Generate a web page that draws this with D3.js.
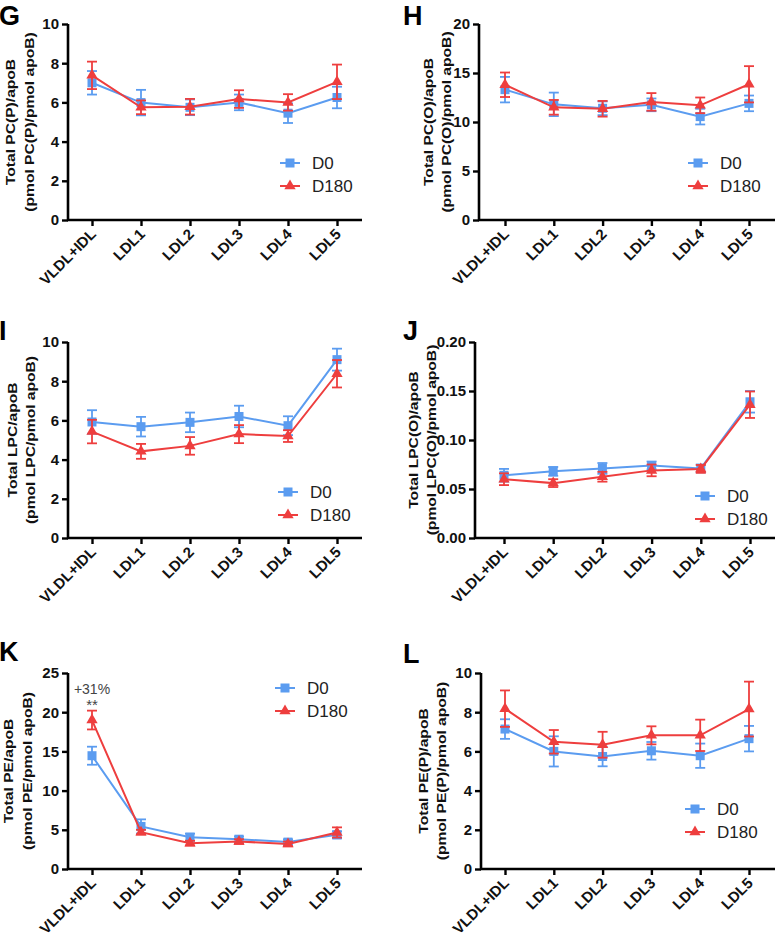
<!DOCTYPE html>
<html>
<head>
<meta charset="utf-8">
<script src="https://cdn.jsdelivr.net/npm/d3@7"></script>
<style>
  body { margin: 0; background: #fff; }
  svg { display: block; font-family: "Liberation Sans", Arial, sans-serif; }
</style>
</head>
<body>
<svg id="chart" width="776" height="937"></svg>
<script>
var categories = ["VLDL+IDL", "LDL1", "LDL2", "LDL3", "LDL4", "LDL5"];
var seriesNames = ["D0", "D180"];

// G: PC(P)
var pcpD0 = [7.0, 5.99, 5.75, 6.0, 5.45, 6.25];
var pcpD0Err = [0.6, 0.65, 0.4, 0.4, 0.5, 0.55];
var pcpD180 = [7.38, 5.75, 5.78, 6.17, 6.0, 7.05];
var pcpD180Err = [0.7, 0.35, 0.4, 0.45, 0.42, 0.88];

// H: PC(O)
var pcoD0 = [13.3, 11.8, 11.4, 11.75, 10.55, 11.9];
var pcoD0Err = [1.3, 1.2, 0.7, 0.65, 0.8, 0.8];
var pcoD180 = [13.8, 11.5, 11.35, 12.05, 11.7, 13.85];
var pcoD180Err = [1.25, 0.75, 0.8, 0.9, 0.8, 1.85];

// I: LPC
var lpcD0 = [5.92, 5.68, 5.9, 6.2, 5.73, 9.1];
var lpcD0Err = [0.6, 0.5, 0.5, 0.55, 0.48, 0.56];
var lpcD180 = [5.43, 4.42, 4.7, 5.3, 5.2, 8.38];
var lpcD180Err = [0.6, 0.38, 0.45, 0.46, 0.3, 0.7];

// J: LPC(O)
var lpcoD0 = [0.064, 0.068, 0.071, 0.074, 0.071, 0.139];
var lpcoD0Err = [0.0065, 0.0045, 0.0055, 0.004, 0.004, 0.011];
var lpcoD180 = [0.060, 0.056, 0.0625, 0.069, 0.0705, 0.136];
var lpcoD180Err = [0.006, 0.004, 0.005, 0.006, 0.004, 0.0135];

// K: PE
var peD0 = [14.45, 5.43, 4.06, 3.8, 3.43, 4.36];
var peD0Err = [1.15, 0.9, 0.45, 0.35, 0.35, 0.45];
var peD180 = [19.0, 4.7, 3.3, 3.5, 3.2, 4.66];
var peD180Err = [1.2, 0.3, 0.3, 0.3, 0.3, 0.65];

// L: PE(P)
var pepD0 = [7.14, 6.0, 5.74, 6.03, 5.78, 6.65];
var pepD0Err = [0.5, 0.77, 0.5, 0.45, 0.62, 0.65];
var pepD180 = [8.18, 6.49, 6.34, 6.82, 6.82, 8.16];
var pepD180Err = [0.93, 0.6, 0.66, 0.46, 0.8, 1.4];

var blue = "#5b9cf0", red = "#ee3e3e";

var panels = [
  { letter: "G", lx: -1, ly: 25, axisX: 68, right: 362, top: 24, bottom: 220, x0: 92, x1: 337,
    yMax: 10, yStep: 2, fmt: "d", titles: ["Total PC(P)/apoB", "(pmol PC(P)/pmol apoB)"], tx: [10, 29],
    d0: pcpD0, d0e: pcpD0Err, d180: pcpD180, d180e: pcpD180Err, legX: 280, legY: 163 },
  { letter: "H", lx: 403, ly: 25, axisX: 479, right: 775, top: 24, bottom: 220, x0: 505, x1: 749,
    yMax: 20, yStep: 5, fmt: "d", titles: ["Total PC(O)/apoB", "(pmol PC(O)/pmol apoB)"], tx: [428, 446],
    d0: pcoD0, d0e: pcoD0Err, d180: pcoD180, d180e: pcoD180Err, legX: 688, legY: 163 },
  { letter: "I", lx: -1, ly: 340, axisX: 68, right: 362, top: 342, bottom: 538, x0: 92, x1: 337,
    yMax: 10, yStep: 2, fmt: "d", titles: ["Total LPC/apoB", "(pmol LPC/pmol apoB)"], tx: [12, 30],
    d0: lpcD0, d0e: lpcD0Err, d180: lpcD180, d180e: lpcD180Err, legX: 278, legY: 492 },
  { letter: "J", lx: 403, ly: 340, axisX: 475, right: 775, top: 342, bottom: 538, x0: 504, x1: 750,
    yMax: 0.2, yStep: 0.05, fmt: ".2f", titles: ["Total LPC(O)/apoB", "(pmol LPC(O)/pmol apoB)"], tx: [413, 431],
    d0: lpcoD0, d0e: lpcoD0Err, d180: lpcoD180, d180e: lpcoD180Err, legX: 695, legY: 496 },
  { letter: "K", lx: -1, ly: 661, axisX: 68, right: 362, top: 673, bottom: 869, x0: 92, x1: 337,
    yMax: 25, yStep: 5, fmt: "d", titles: ["Total PE/apoB", "(pmol PE/pmol apoB)"], tx: [8, 27],
    d0: peD0, d0e: peD0Err, d180: peD180, d180e: peD180Err, legX: 275, legY: 688 },
  { letter: "L", lx: 403, ly: 663, axisX: 481, right: 775, top: 673, bottom: 869, x0: 505, x1: 749,
    yMax: 10, yStep: 2, fmt: "d", titles: ["Total PE(P)/apoB", "(pmol PE(P)/pmol apoB)"], tx: [423, 441],
    d0: pepD0, d0e: pepD0Err, d180: pepD180, d180e: pepD180Err, legX: 685, legY: 809 }
];

var svg = d3.select("#chart");

function drawMarker(sel, name, color) {
  if (name === "D0") {
    sel.append("rect").attr("x", -4.5).attr("y", -4.5).attr("width", 9).attr("height", 9).attr("fill", color);
  } else {
    sel.append("path").attr("d", d3.symbol().type(d3.symbolTriangle).size(55)()).attr("fill", color);
  }
}

panels.forEach(function (p) {
  var g = svg.append("g");

  var x = d3.scalePoint().domain(categories).range([p.x0, p.x1]);
  var y = d3.scaleLinear().domain([0, p.yMax]).range([p.bottom, p.top]);

  // panel letter
  g.append("text").attr("x", p.lx).attr("y", p.ly)
    .style("font-size", "27px").style("font-weight", "bold").text(p.letter);

  // y axis
  var yAxis = g.append("g").attr("transform", "translate(" + p.axisX + ",0)")
    .call(d3.axisLeft(y).tickValues(d3.range(0, p.yMax + p.yStep / 2, p.yStep))
      .tickFormat(d3.format(p.fmt)).tickSize(6).tickPadding(3));
  // x axis
  var xAxis = g.append("g").attr("transform", "translate(0," + p.bottom + ")")
    .call(d3.axisBottom(x).tickSize(6).tickFormat(""));
  xAxis.select(".domain").attr("d", "M" + (p.axisX - 1) + ",0H" + p.right);

  [yAxis, xAxis].forEach(function (a) {
    a.select(".domain").attr("stroke-width", 2.6);
    a.selectAll(".tick line").attr("stroke-width", 2.4);
  });
  yAxis.select(".domain").attr("d", "M0," + (p.bottom + 1) + "V" + p.top);
  yAxis.selectAll(".tick text").style("font-size", "15px").style("font-weight", "bold").attr("fill", "#111");

  // rotated category labels
  g.selectAll(".cat").data(categories).enter().append("text")
    .attr("transform", function (d) { return "translate(" + (x(d) + 5) + "," + (p.bottom + 15) + ") rotate(-45)"; })
    .attr("text-anchor", "end")
    .style("font-size", "15px").style("font-weight", "bold").attr("fill", "#111")
    .text(function (d) { return d; });

  // y titles (glyphs in the source are wide, so stretch along the text)
  var midY = (p.top + p.bottom) / 2;
  p.titles.forEach(function (t, i) {
    g.append("text").attr("transform", "translate(" + (p.tx[i] + 4.5) + "," + midY + ") rotate(-90) scale(1.22,1)")
      .attr("text-anchor", "middle")
      .style("font-size", "12.8px").style("font-weight", "bold").attr("fill", "#111")
      .text(t);
  });

  // series
  var series = [
    { name: "D0", color: blue, vals: p.d0, errs: p.d0e },
    { name: "D180", color: red, vals: p.d180, errs: p.d180e }
  ];
  var line = d3.line().x(function (d) { return x(d.cat); }).y(function (d) { return y(d.v); });

  series.forEach(function (s) {
    var pts = categories.map(function (c, i) { return { cat: c, v: s.vals[i], e: s.errs[i] }; });
    var sg = g.append("g");
    sg.append("path").attr("d", line(pts)).attr("fill", "none").attr("stroke", s.color).attr("stroke-width", 2);
    var eb = sg.selectAll(".eb").data(pts).enter().append("g");
    eb.append("line").attr("x1", function (d) { return x(d.cat); }).attr("x2", function (d) { return x(d.cat); })
      .attr("y1", function (d) { return y(d.v + d.e); }).attr("y2", function (d) { return y(d.v - d.e); })
      .attr("stroke", s.color).attr("stroke-width", 1.8);
    [1, -1].forEach(function (sign) {
      eb.append("line").attr("x1", function (d) { return x(d.cat) - 5; }).attr("x2", function (d) { return x(d.cat) + 5; })
        .attr("y1", function (d) { return y(d.v + sign * d.e); }).attr("y2", function (d) { return y(d.v + sign * d.e); })
        .attr("stroke", s.color).attr("stroke-width", 1.8);
    });
    sg.selectAll(".mk").data(pts).enter().append("g")
      .attr("transform", function (d) { return "translate(" + x(d.cat) + "," + y(d.v) + ")"; })
      .each(function () { drawMarker(d3.select(this), s.name, s.color); });
  });

  // legend
  series.forEach(function (s, i) {
    var ly = p.legY + i * 23;
    var lg = g.append("g").attr("transform", "translate(" + p.legX + "," + ly + ")");
    lg.append("line").attr("x1", 0).attr("x2", 20).attr("stroke", s.color).attr("stroke-width", 2);
    drawMarker(lg.append("g").attr("transform", "translate(10,0)"), s.name, s.color);
    lg.append("text").attr("x", 32).attr("y", 6).style("font-size", "17px").attr("fill", "#222").text(s.name);
  });
});

// significance note on panel K
var kx = d3.scalePoint().domain(categories).range([92, 337]);
svg.append("text").attr("x", kx("VLDL+IDL")).attr("y", 694).attr("text-anchor", "middle")
  .style("font-size", "14px").attr("fill", "#444").text("+31%");
svg.append("text").attr("x", kx("VLDL+IDL")).attr("y", 710).attr("text-anchor", "middle")
  .style("font-size", "15px").attr("fill", "#444").text("**");
</script>
</body>
</html>
